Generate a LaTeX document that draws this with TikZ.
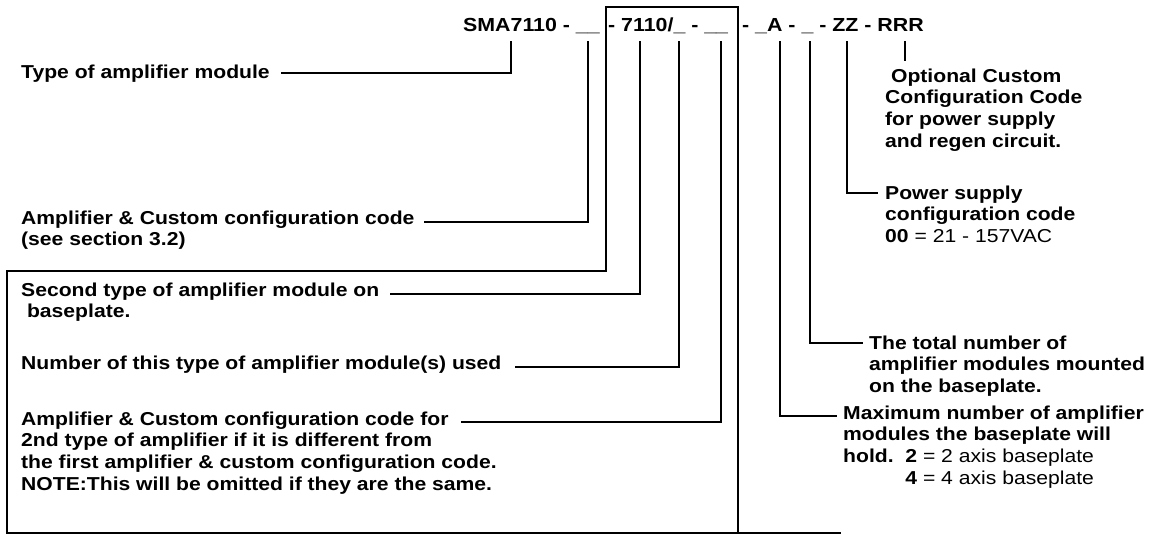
\documentclass[tikz,border=0pt]{standalone}
\usepackage{fontspec}
\setmainfont{Liberation Sans}[FakeStretch=1.13]
\begin{document}
\begin{tikzpicture}[x=1pt,y=-1pt,
  conn/.style={line width=1.6pt, line cap=rect},
  lbl/.style={anchor=base west, inner sep=0pt, font=\fontsize{18.7}{21.7}\selectfont\bfseries},
  ttl/.style={anchor=base west, inner sep=0pt, font=\fontsize{18.9}{22}\selectfont\bfseries}]
\useasboundingbox (0,0) rectangle (1151,535);

% title
\node[ttl] (t1) at (463,32) {SMA7110 - \_\_};
\node[ttl] (t2) at (608,32) {- 7110/\_ - \_\_};
\node[ttl] (t3) at (742,32) {- \_A - \_ - ZZ - RRR};

% frame
\coordinate (fA) at (7,533);
\coordinate (fB) at (7,271);
\coordinate (fC) at (606,271);
\coordinate (fD) at (606,7);
\coordinate (fE) at (738,7);
\coordinate (fF) at (738,533);
\coordinate (fG) at (840,533);
\draw[conn] (fA) -- (fB) -- (fC) -- (fD) -- (fE) -- (fF);
\draw[conn] (fA) -- (fG);

% left labels
\node[lbl] (l1) at (21,78) {Type of amplifier module};
\node[lbl] (l2) at (21,224) {Amplifier \& Custom configuration code};
\node[lbl] (l2b) at (21,245.7) {(see section 3.2)};
\node[lbl] (l3) at (21,296) {Second type of amplifier module on};
\node[lbl] (l3b) at (21,317.7) {\ baseplate.};
\node[lbl] (l4) at (21,369) {Number of this type of amplifier module(s) used};
\node[lbl] (l5) at (21,425) {Amplifier \& Custom configuration code for};
\node[lbl] (l5b) at (21,446.7) {2nd type of amplifier if it is different from};
\node[lbl] (l5c) at (21,468.4) {the first amplifier \& custom configuration code.};
\node[lbl] (l5d) at (21,490.1) {NOTE:This will be omitted if they are the same.};

% right labels
\node[lbl] (r1) at (885,82) {\ Optional Custom};
\node[lbl] (r1b) at (885,103.7) {Configuration Code};
\node[lbl] (r1c) at (885,125.4) {for power supply};
\node[lbl] (r1d) at (885,147.1) {and regen circuit.};
\node[lbl] (r2) at (885,199) {Power supply};
\node[lbl] (r2b) at (885,220.7) {configuration code};
\node[lbl] (r2c) at (885,242.4) {00 \mdseries= 21 - 157VAC};
\node[lbl] (r3) at (869,349) {The total number of};
\node[lbl] (r3b) at (869,370.7) {amplifier modules mounted};
\node[lbl] (r3c) at (869,392.4) {on the baseplate.};
\node[lbl] (r4) at (843,419) {Maximum number of amplifier};
\node[lbl] (r4b) at (843,440.7) {modules the baseplate will};
\node[lbl] (r4c) at (843,462.4) {hold.\ \ 2 \mdseries= 2 axis baseplate};
\node[lbl] (r4d) at (843,484.1) {\phantom{hold.\ \ }4 \mdseries= 4 axis baseplate};

% tick tops
\coordinate (k1) at (511,42);
\coordinate (k2) at (588,42);
\coordinate (k4) at (640,42);
\coordinate (k5) at (679,42);
\coordinate (k6) at (721,42);
\coordinate (k7) at (780,42);
\coordinate (k8) at (810,42);
\coordinate (k9) at (847,42);
\coordinate (k10) at (905,42);
% free ends
\coordinate (e1) at (282,73);
\coordinate (e2) at (425,222);
\coordinate (e4) at (391,294);
\coordinate (e5) at (516,367);
\coordinate (e6) at (462,422);
\coordinate (e7) at (836,416);
\coordinate (e8) at (862,343);
\coordinate (e9) at (877,193);
\coordinate (e10) at (905,60);

\draw[conn] (k1) |- (e1);
\draw[conn] (k2) |- (e2);
\draw[conn] (k4) |- (e4);
\draw[conn] (k5) |- (e5);
\draw[conn] (k6) |- (e6);
\draw[conn] (k7) |- (e7);
\draw[conn] (k8) |- (e8);
\draw[conn] (k9) |- (e9);
\draw[conn] (k10) -- (e10);
\end{tikzpicture}
\end{document}
